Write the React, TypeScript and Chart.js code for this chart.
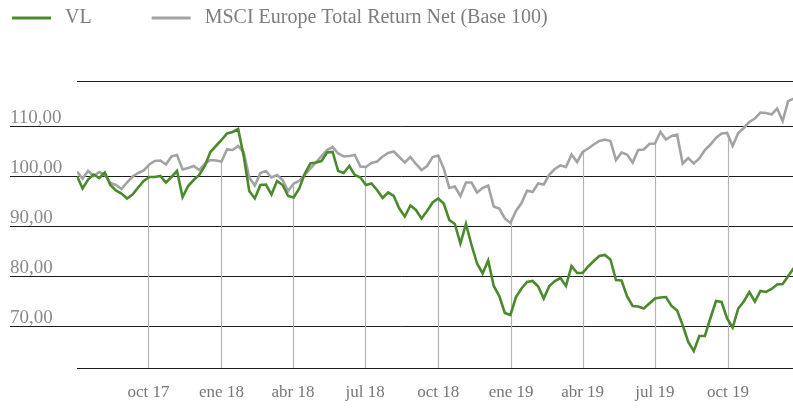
import React, { useEffect, useRef } from "react";
import { Chart, registerables } from "chart.js";

Chart.register(...registerables);

// ---- data ----
const START_DATE = "2017-07-03"; // first weekly observation
const WEEK_STEP_DAYS = 7;
const X_MAX_DAYS = 902;

const SERIES_LABELS = ["VL", "MSCI Europe Total Return Net (Base 100)"];

const VL_VALUES = [
  100.0, 97.5, 99.3, 100.3, 99.6, 100.7, 98.2, 97.1, 96.5, 95.5,
  96.3, 97.7, 99.0, 99.8, 99.8, 100.0, 98.7, 99.8, 101.0, 95.8,
  98.0, 99.2, 100.2, 102.0, 104.8, 106.0, 107.2, 108.5, 108.8, 109.4,
  104.0, 97.0, 95.5, 98.2, 98.3, 96.3, 99.0, 98.2, 96.0, 95.7,
  97.5, 100.5, 102.5, 102.7, 103.0, 104.7, 104.8, 101.0, 100.6, 102.0,
  100.2, 99.7, 98.2, 98.5, 97.2, 95.6, 96.7, 96.0, 93.5, 91.9,
  94.1, 93.2, 91.5, 93.0, 94.7, 95.5, 94.5, 91.2, 90.4, 86.5,
  90.4, 86.2, 82.5, 80.5, 83.1, 78.0, 76.0, 72.6, 72.2, 75.8,
  77.5, 78.8, 79.0, 77.9, 75.5, 78.0, 79.0, 79.6, 78.0, 82.0,
  80.6, 80.6, 81.9, 83.0, 84.0, 84.2, 83.3, 79.2, 79.1, 75.9,
  74.0, 73.9, 73.5, 74.5, 75.5, 75.7, 75.8, 74.0, 73.1, 70.2,
  66.8, 65.0, 68.0, 68.0, 71.6, 75.0, 74.8, 71.5, 69.7, 73.5,
  74.9, 76.8, 74.9, 77.0, 76.8, 77.4, 78.3, 78.4, 80.0, 81.6,
];

const MSCI_VALUES = [
  100.9, 99.5, 101.0, 100.0, 100.8, 100.3, 98.6, 98.2, 97.4, 98.7,
  99.9, 100.6, 101.1, 102.3, 103.0, 103.1, 102.3, 103.9, 104.2, 101.3,
  101.6, 102.0, 101.2, 102.4, 103.2, 103.1, 102.9, 105.3, 105.2, 106.0,
  104.8, 99.7, 98.1, 100.6, 101.0, 99.7, 100.2, 99.2, 97.0, 98.5,
  99.0, 100.3, 101.5, 102.7, 104.0, 105.2, 105.8, 104.5, 103.9, 104.0,
  104.2, 101.9, 101.8, 102.6, 102.9, 103.9, 104.6, 104.9, 103.8, 102.7,
  103.8, 102.4, 101.2, 102.0, 103.8, 104.1, 101.5, 97.6, 97.9, 96.0,
  98.7, 98.7, 96.7, 97.6, 98.1, 93.9, 93.5, 91.5, 90.6, 93.0,
  94.6, 97.1, 96.8, 98.5, 98.3, 100.3, 101.4, 102.1, 101.8, 104.3,
  102.8, 104.8, 105.5, 106.3, 107.0, 107.3, 107.0, 103.2, 104.7, 104.3,
  102.7, 105.2, 105.3, 106.4, 106.5, 108.8, 107.3, 108.0, 108.3, 102.5,
  103.6, 102.5, 103.5, 105.2, 106.3, 107.6, 108.5, 108.6, 106.0, 108.6,
  109.6, 110.8, 111.5, 112.7, 112.6, 112.3, 113.5, 111.0, 115.0, 115.5,
];

const Y_TICKS = [70, 80, 90, 100, 110];
const Y_TICK_LABELS = ["70,00", "80,00", "90,00", "100,00", "110,00"];
const Y_MIN = 61.6;
const Y_MAX = 119;

const X_TICK_DATES = [
  "2017-10-01", "2018-01-01", "2018-04-01", "2018-07-01", "2018-10-01",
  "2019-01-01", "2019-04-01", "2019-07-01", "2019-10-01",
];
const X_TICK_LABELS = [
  "oct 17", "ene 18", "abr 18", "jul 18", "oct 18",
  "ene 19", "abr 19", "jul 19", "oct 19",
];

// ---- helpers / styles ----
const FONT = "'Liberation Serif', 'DejaVu Serif', serif";
const GREEN = "#4a8a2c";
const GREY = "#a3a3a3";
const AXIS_LINE = "#1c1c1c";

const dayOf = (d: string) =>
  Math.round((Date.parse(d) - Date.parse(START_DATE)) / 86400000);
const TICK_DAYS = X_TICK_DATES.map(dayOf);
const toPoints = (vals: number[]) =>
  vals.map((v, i) => ({ x: i * WEEK_STEP_DAYS, y: v }));
const crisp = (p: number) => Math.round(p) + 0.5;

const decorPlugin = {
  id: "decor",
  beforeDatasetsDraw(chart: any) {
    const { ctx, chartArea, scales } = chart;
    const ys = scales.y;
    const xs = scales.x;
    ctx.save();
    const hline = (x1: number, x2: number, y: number) => {
      ctx.beginPath();
      ctx.moveTo(x1, y);
      ctx.lineTo(x2, y);
      ctx.stroke();
    };
    // top and bottom borders
    ctx.strokeStyle = AXIS_LINE;
    ctx.lineWidth = 1;
    hline(chartArea.left, chartArea.right, crisp(chartArea.top));
    hline(chartArea.left, chartArea.right, crisp(chartArea.bottom));

    // horizontal grid lines with labels sitting above them
    ctx.font = `19px ${FONT}`;
    ctx.fillStyle = "#8a8a8a";
    ctx.textAlign = "left";
    ctx.textBaseline = "alphabetic";
    Y_TICKS.forEach((v, i) => {
      const py = crisp(ys.getPixelForValue(v));
      ctx.strokeStyle = AXIS_LINE;
      hline(10, chartArea.right, py);
      ctx.fillText(Y_TICK_LABELS[i], 10, py - 4);
    });

    // vertical drop lines from the axis up to the index line
    const pts = chart.getDatasetMeta(1).data;
    ctx.strokeStyle = "#b4b4b4";
    ctx.lineWidth = 1.2;
    TICK_DAYS.forEach((d) => {
      const px = xs.getPixelForValue(d);
      let py = chartArea.bottom;
      for (let j = 0; j < pts.length - 1; j++) {
        if (pts[j].x <= px && pts[j + 1].x >= px) {
          const t = (px - pts[j].x) / (pts[j + 1].x - pts[j].x || 1);
          py = pts[j].y + t * (pts[j + 1].y - pts[j].y);
          break;
        }
      }
      const cx = crisp(px);
      ctx.beginPath();
      ctx.moveTo(cx, chartArea.bottom);
      ctx.lineTo(cx, py);
      ctx.stroke();
    });
    ctx.restore();
  },
  afterDraw(chart: any) {
    const { ctx } = chart;
    ctx.save();
    ctx.font = `20px ${FONT}`;
    ctx.textBaseline = "middle";
    ctx.textAlign = "left";
    let x = 12;
    const y = 18;
    chart.data.datasets.forEach((ds: any) => {
      ctx.strokeStyle = ds.borderColor;
      ctx.lineWidth = 3;
      ctx.beginPath();
      ctx.moveTo(x, y);
      ctx.lineTo(x + 39, y);
      ctx.stroke();
      const tx = x + 53;
      ctx.fillStyle = "#7d7d7d";
      ctx.fillText(ds.label, tx, y);
      x = tx + ctx.measureText(ds.label).width + 60;
    });
    ctx.restore();
  },
};

export default function App() {
  const canvasRef = useRef<HTMLCanvasElement | null>(null);

  useEffect(() => {
    document.body.style.margin = "0";
    const canvas = canvasRef.current;
    if (!canvas) return;
    const chart = new Chart(canvas, {
      type: "line",
      data: {
        datasets: [
          {
            label: SERIES_LABELS[0],
            data: toPoints(VL_VALUES),
            borderColor: GREEN,
            borderWidth: 2.6,
            pointRadius: 0,
            tension: 0,
            fill: false,
          },
          {
            label: SERIES_LABELS[1],
            data: toPoints(MSCI_VALUES),
            borderColor: GREY,
            borderWidth: 2.6,
            pointRadius: 0,
            tension: 0,
            fill: false,
          },
        ],
      },
      options: {
        animation: false,
        responsive: true,
        maintainAspectRatio: false,
        layout: { padding: { left: 77, top: 81, right: 0, bottom: -8.4 } },
        plugins: {
          legend: { display: false },
          tooltip: { enabled: false },
        },
        scales: {
          x: {
            type: "linear",
            min: 0,
            max: X_MAX_DAYS,
            grid: { display: false, drawTicks: false },
            border: { display: false },
            afterBuildTicks: (s: any) => {
              s.ticks = TICK_DAYS.map((v) => ({ value: v }));
            },
            ticks: {
              autoSkip: false,
              maxRotation: 0,
              padding: 14,
              color: "#777777",
              font: { family: FONT, size: 17 },
              callback: (v: any) => {
                const i = TICK_DAYS.indexOf(Number(v));
                return i >= 0 ? X_TICK_LABELS[i] : "";
              },
            },
          },
          y: {
            display: false,
            min: Y_MIN,
            max: Y_MAX,
          },
        },
      },
      plugins: [decorPlugin],
    });
    return () => chart.destroy();
  }, []);

  return (
    <div style={{ width: 793, height: 408, position: "relative" }}>
      <canvas ref={canvasRef} />
    </div>
  );
}
